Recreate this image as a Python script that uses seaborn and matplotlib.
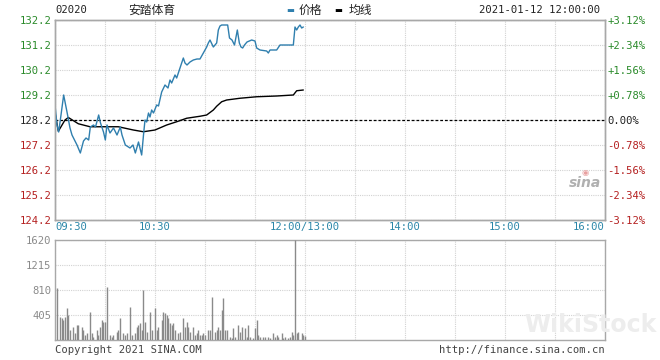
import matplotlib
matplotlib.use("Agg")
import matplotlib.pyplot as plt
import seaborn as sns

# ---------------- data ----------------
stock_code = "02020"
stock_name = "安踏体育"
timestamp = "2021-01-12 12:00:00"
prev_close = 128.2
legend_price = "价格"
legend_avg = "均线"

# minutes since 09:30 (trading minutes, lunch break removed)
price_minute = [0, 1.2, 2.2, 3.6, 5.2, 7.2, 9, 10.2, 13.2, 15.2, 17.1, 18.6, 20.2, 21.2,
                23.1, 24.3, 26.2, 27.3, 29.1, 30.2, 31.2, 33, 35.1, 37.2, 39.2, 40.2,
                42.2, 45, 46.8, 48.2, 50.1, 52, 53.1, 54, 55, 56.1, 57, 58, 59.1, 61,
                62.1, 64, 66, 67.8, 69, 70, 72, 73, 75, 77, 78, 79.2, 81, 83, 85.2, 87,
                89, 91, 92, 93, 95, 97, 98, 99, 100, 103.6, 104.7, 106.2, 107.7, 109.4,
                110.6, 111.6, 112.6, 113.7, 115.2, 118, 120, 121, 123, 127, 128, 129,
                133, 135, 143, 144, 145, 146, 147, 148, 149]
price_value = [128.8, 128.0, 127.72, 128.4, 129.2, 128.52, 127.88, 127.6, 127.2, 126.88,
               127.36, 127.48, 127.4, 127.92, 128.0, 127.92, 128.4, 128.08, 127.72, 127.4,
               128.0, 127.68, 127.88, 127.6, 127.92, 127.6, 127.2, 127.08, 127.2, 126.88,
               127.32, 126.8, 127.6, 128.2, 128.12, 128.48, 128.32, 128.6, 128.48, 128.8,
               128.76, 129.32, 129.6, 129.48, 129.8, 129.68, 130.0, 129.88, 130.28, 130.68,
               130.48, 130.4, 130.52, 130.6, 130.64, 130.64, 130.88, 131.12, 131.28, 131.4,
               131.12, 131.28, 131.8, 131.96, 132.0, 132.0, 131.48, 131.4, 131.2, 131.8,
               131.28, 131.12, 131.08, 131.2, 131.32, 131.4, 131.36, 131.08, 131.0, 130.96,
               130.88, 131.0, 131.0, 131.2, 131.2, 131.92, 131.8, 131.92, 132.0, 131.88,
               131.92]

avg_minute = [0, 2, 6, 8, 14, 21, 38, 47, 53, 60, 67, 73, 79, 87, 91, 95, 97, 100, 103,
              111, 121, 133, 143, 145, 149]
avg_value = [128.5, 127.75, 128.2, 128.3, 128.05, 127.93, 127.93, 127.8, 127.73, 127.8,
             128.0, 128.13, 128.27, 128.35, 128.4, 128.6, 128.75, 128.93, 129.0, 129.07,
             129.13, 129.16, 129.2, 129.37, 129.4]

vol_minute = [1, 3, 4, 5, 6, 7, 8, 9, 11, 12, 13, 14, 16, 17, 18, 19, 21, 22, 23, 25, 26,
              27, 28, 29, 30, 31, 33, 34, 35, 37, 38, 39, 41, 42, 43, 45, 46, 48, 49, 50,
              51, 52, 53, 54, 55, 57, 58, 60, 61, 62, 64, 65, 66, 67, 68, 69, 70, 71, 72,
              74, 75, 77, 78, 79, 80, 81, 83, 84, 85, 86, 87, 88, 89, 90, 92, 93, 94, 96,
              97, 98, 99, 100, 101, 102, 103, 105, 106, 107, 108, 110, 111, 112, 114, 115,
              116, 117, 119, 120, 121, 122, 123, 125, 126, 128, 129, 131, 132, 133, 134,
              136, 137, 138, 140, 141, 142, 143, 144, 145, 146, 148, 149, 150]
vol_value = [837, 378, 351, 324, 378, 513, 405, 162, 216, 108, 243, 243, 216, 162, 81, 108,
             459, 108, 54, 162, 81, 216, 324, 297, 297, 864, 81, 54, 81, 135, 162, 351, 108,
             81, 108, 540, 81, 108, 216, 243, 270, 162, 810, 297, 135, 459, 162, 513, 162,
             216, 324, 459, 432, 405, 351, 270, 243, 270, 162, 108, 135, 351, 216, 297, 216,
             135, 216, 81, 108, 162, 81, 81, 108, 81, 162, 162, 702, 135, 162, 216, 162, 486,
             675, 162, 162, 54, 27, 189, 54, 243, 135, 216, 189, 54, 243, 54, 27, 189, 324,
             81, 54, 54, 54, 54, 27, 108, 54, 81, 54, 108, 27, 54, 27, 54, 135, 81, 1620,
             108, 135, 108, 81, 65]

price_ticks = [132.2, 131.2, 130.2, 129.2, 128.2, 127.2, 126.2, 125.2, 124.2]
price_tick_labels = ["132.2", "131.2", "130.2", "129.2", "128.2", "127.2", "126.2", "125.2", "124.2"]
pct_tick_labels = ["+3.12%", "+2.34%", "+1.56%", "+0.78%", "0.00%", "-0.78%", "-1.56%", "-2.34%", "-3.12%"]
vol_ticks = [405, 810, 1215, 1620]
vol_tick_labels = ["405", "810", "1215", "1620"]
grid_minutes = [0, 30, 60, 90, 120, 150, 180, 210, 240, 270, 300, 330]
time_ticks = [0, 60, 150, 210, 270, 330]
time_labels = ["09:30", "10:30", "12:00/13:00", "14:00", "15:00", "16:00"]

# ---------------- style ----------------
sns.set_style("white")
plt.rcParams['font.family'] = ['DejaVu Sans Mono', 'Noto Sans CJK SC']
FS = 7.6
UP = "#2a8a2a"
DOWN = "#b42020"
NEUTRAL = "#222222"
TIMEC = "#2a86a8"
GRID = "#d2d2d2"
FRAME = "#a8a8a8"
LINEC = "#2f7fae"

fig = plt.figure(figsize=(6.6, 3.6), dpi=100)
ax = fig.add_axes([55/660, 1-220/360, 550/660, 200/360])
axv = fig.add_axes([55/660, 1-340/360, 550/660, 100/360])

# ---- price panel ----
sns.lineplot(x=price_minute, y=price_value, ax=ax, color=LINEC, linewidth=1.0,
             estimator=None, sort=False, zorder=4)
sns.lineplot(x=avg_minute, y=avg_value, ax=ax, color="black", linewidth=1.0,
             estimator=None, sort=False, zorder=3)
ax.axhline(prev_close, color="black", linewidth=0.9, linestyle=(0, (2.2, 1.6)), zorder=2)
ax.set_xlim(0, 330)
ax.set_ylim(124.2, 132.2)
ax.set_yticks(price_ticks)
ax.set_yticklabels(price_tick_labels, fontsize=FS)
ax.set_xticks(time_ticks)
ax.set_xticklabels(time_labels, fontsize=FS, color=TIMEC)
ax.set_xticks(grid_minutes, minor=True)
for lbl, t in zip(ax.get_xticklabels(), time_ticks):
    if t == 0:
        lbl.set_ha("left")
    elif t == 330:
        lbl.set_ha("right")
for lbl, v in zip(ax.get_yticklabels(), price_ticks):
    lbl.set_color(UP if v > prev_close else (DOWN if v < prev_close else NEUTRAL))
ax.tick_params(axis="both", which="both", length=0)
ax.tick_params(axis="y", pad=2.5)
ax.tick_params(axis="x", pad=1.5)
ax.grid(True, axis="both", which="both", color=GRID, linestyle=(0, (1, 1)), linewidth=0.8)
ax.set_axisbelow(True)

axr = ax.twinx()
axr.set_ylim(124.2, 132.2)
axr.set_yticks(price_ticks)
axr.set_yticklabels(pct_tick_labels, fontsize=FS)
for lbl, v in zip(axr.get_yticklabels(), price_ticks):
    lbl.set_color(UP if v > prev_close else (DOWN if v < prev_close else NEUTRAL))
axr.tick_params(axis="y", length=0, pad=1.5)

for a in (ax, axr, axv):
    for s in a.spines.values():
        s.set_color(FRAME)
        s.set_linewidth(1.0)
        s.set_visible(True)

# ---- volume panel ----
axv.vlines(vol_minute, 0, vol_value, colors="#8a8a8a", linewidth=1.0, zorder=3)
axv.set_xlim(0, 330)
axv.set_ylim(0, 1620)
axv.set_yticks(vol_ticks)
axv.set_yticklabels(vol_tick_labels, fontsize=FS, color="#8a8a8a")
axv.set_xticks(grid_minutes)
axv.set_xticklabels([])
axv.tick_params(axis="both", length=0)
axv.tick_params(axis="y", pad=2.5)
axv.grid(True, axis="both", color=GRID, linestyle=(0, (1, 1)), linewidth=0.8)
axv.set_axisbelow(True)

# ---- header ----
fig.text(55/660, 1-10/360, stock_code, fontsize=FS, color=NEUTRAL, ha="left", va="center")
fig.text(152/660, 1-10/360, stock_name, fontsize=8.5, color=NEUTRAL, ha="center", va="center",
         family=['Noto Sans CJK SC'])
fig.text(290/660, 1-10.5/360, "▬", fontsize=6, color=LINEC, ha="center", va="center",
         family=['DejaVu Sans'])
fig.text(299/660, 1-10/360, legend_price, fontsize=8.5, color=NEUTRAL, ha="left", va="center",
         family=['Noto Sans CJK SC'])
fig.text(338/660, 1-10.5/360, "▬", fontsize=6, color="black", ha="center", va="center",
         family=['DejaVu Sans'])
fig.text(349/660, 1-10/360, legend_avg, fontsize=8.5, color=NEUTRAL, ha="left", va="center",
         family=['Noto Sans CJK SC'])
fig.text(600/660, 1-10/360, timestamp, fontsize=FS, color=NEUTRAL, ha="right", va="center")

# ---- footer & watermarks ----
fig.text(55/660, 1-350/360, "Copyright 2021 SINA.COM", fontsize=FS, color="#444444",
         ha="left", va="center")
fig.text(605/660, 1-350/360, "http://finance.sina.com.cn", fontsize=FS, color="#444444",
         ha="right", va="center")
fig.text(585/660, 1-172/360, "◉", fontsize=6, color="#e8a0a0", ha="center", va="center",
         family=['DejaVu Sans'])
fig.text(585/660, 1-183/360, "sina", fontsize=10, color="#b0b0b0", ha="center", va="center",
         style="italic", fontweight="bold", family=['DejaVu Sans'])
fig.text(590/660, 1-325/360, "WikiStock", fontsize=17, color="#ededed", ha="center",
         va="center", fontweight="bold", family=['DejaVu Sans'], zorder=0)

fig.savefig("out.png", dpi=100)
